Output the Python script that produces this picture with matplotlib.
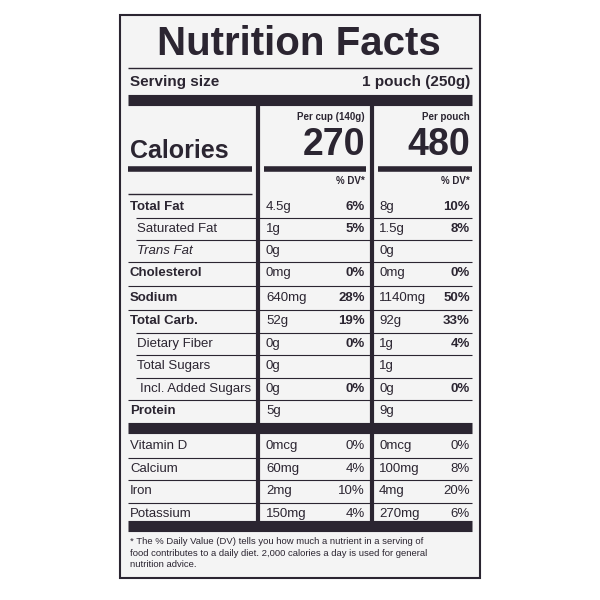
import matplotlib.pyplot as plt

plt.rcParams["font.family"] = ["Liberation Sans", "DejaVu Sans"]
INK = "#2b2531"
nutrients = ["Total Fat", "Saturated Fat", "Trans Fat", "Cholesterol", "Sodium",
             "Total Carb.", "Dietary Fiber", "Total Sugars", "Incl. Added Sugars",
             "Protein", "Vitamin D", "Calcium", "Iron", "Potassium"]
indent = [0, 1, 1, 0, 0, 0, 1, 1, 2, 0, 0, 0, 0, 0]
bold = [1, 0, 0, 1, 1, 1, 0, 0, 0, 1, 0, 0, 0, 0]
cup_amt = ["4.5g", "1g", "0g", "0mg", "640mg", "52g", "0g", "0g", "0g", "5g",
           "0mcg", "60mg", "2mg", "150mg"]
cup_dv = ["6%", "5%", "", "0%", "28%", "19%", "0%", "", "0%", "", "0%", "4%", "10%", "4%"]
pouch_amt = ["8g", "1.5g", "0g", "0mg", "1140mg", "92g", "1g", "1g", "0g", "9g",
             "0mcg", "100mg", "4mg", "270mg"]
pouch_dv = ["10%", "8%", "", "0%", "50%", "33%", "4%", "", "0%", "", "0%", "8%", "20%", "6%"]
row_y = [207, 229, 251, 273, 298, 321, 344, 366, 389, 411, 446, 469, 491, 514]

fig = plt.figure(figsize=(6, 6), dpi=100)
ax = fig.add_axes([0, 0, 1, 1])
ax.set_xlim(0, 600)
ax.set_ylim(600, 0)
ax.axis("off")
ax.add_patch(plt.Rectangle((120, 15), 360, 563, fc="#f4f4f4", ec=INK, lw=1.5))

def hline(y, x0=128, x1=472, lw=1):
    ax.plot([x0, x1], [y, y], color=INK, lw=lw, solid_capstyle="butt")

ax.text(299, 44, "Nutrition Facts", fontsize=29, weight="bold", color=INK,
        va="center", ha="center")
hline(68, lw=1)
ax.text(130, 82, "Serving size", fontsize=11, weight="bold", color=INK, va="center")
ax.text(470, 82, "1 pouch (250g)", fontsize=11, weight="bold", color=INK, va="center", ha="right")
hline(100, lw=8)
ax.text(365, 117, "Per cup (140g)", fontsize=7, weight="bold", color=INK, va="center", ha="right")
ax.text(470, 117, "Per pouch", fontsize=7, weight="bold", color=INK, va="center", ha="right")
ax.text(365, 145, "270", fontsize=27, weight="bold", color=INK, va="center", ha="right")
ax.text(470, 145, "480", fontsize=27, weight="bold", color=INK, va="center", ha="right")
ax.text(130, 151, "Calories", fontsize=18, weight="bold", color=INK, va="center")
hline(169, 128, 252, lw=4)
hline(169, 264, 366, lw=4)
hline(169, 378, 472, lw=4)
ax.text(365, 181, "% DV*", fontsize=7, weight="bold", color=INK, va="center", ha="right")
ax.text(470, 181, "% DV*", fontsize=7, weight="bold", color=INK, va="center", ha="right")
ax.plot([258, 258], [105, 524], color=INK, lw=3)
ax.plot([372, 372], [105, 524], color=INK, lw=3)
hline(194, 128, 252)

for i, name in enumerate(nutrients):
    y = row_y[i]
    ax.text(130 + 7 * min(indent[i], 1) + (3 if indent[i] == 2 else 0), y, name,
            fontsize=9.5, color=INK, va="center",
            weight="bold" if bold[i] else "normal",
            style="italic" if name == "Trans Fat" else "normal")
    ax.text(266, y, cup_amt[i], fontsize=9.5, color=INK, va="center")
    ax.text(365, y, cup_dv[i], fontsize=9.5, color=INK, va="center", ha="right",
            weight="bold" if i < 10 else "normal")
    ax.text(379, y, pouch_amt[i], fontsize=9.5, color=INK, va="center")
    ax.text(470, y, pouch_dv[i], fontsize=9.5, color=INK, va="center", ha="right",
            weight="bold" if i < 10 else "normal")
    if i == 9:
        hline(428, lw=8)
    elif i == 13:
        hline(526, lw=8)
    else:
        nxt = row_y[i + 1]
        hline((y + nxt) / 2, 128 if indent[i + 1] == 0 else 136, 472, lw=0.8)

ax.text(130, 553, "* The % Daily Value (DV) tells you how much a nutrient in a serving of\n"
        "food contributes to a daily diet. 2,000 calories a day is used for general\n"
        "nutrition advice.", fontsize=6.8, color=INK, va="center", linespacing=1.3)
fig.savefig("out.png", dpi=100, facecolor="white")
